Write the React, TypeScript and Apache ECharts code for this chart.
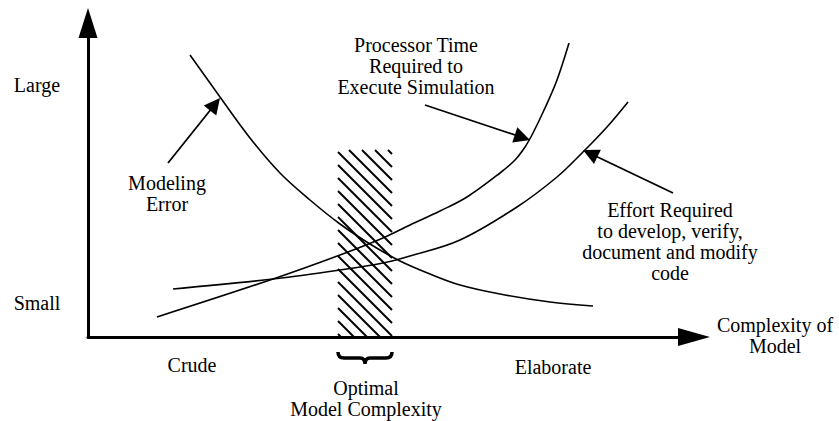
import { useEffect, useRef } from 'react';
import * as echarts from 'echarts';

// Data units: x = horizontal distance from the y axis, y = height above the x axis
const X_MAX = 606;
const Y_MAX = 314;

const modelingError: number[][] = [
  [102, 282], [132, 240], [162, 199], [192, 164], [222, 137], [252, 113], [282, 93],
  [312, 76], [342, 63], [372, 52], [412, 43], [462, 35], [505, 31],
];
const processorTime: number[][] = [
  [69, 20], [185, 58], [252, 82], [295, 99], [322, 112], [352, 126], [379, 140],
  [412, 164], [427, 177], [437, 190], [445, 204], [457, 229], [469, 257], [481, 294],
];
const effortRequired: number[][] = [
  [85, 48], [185, 58], [252, 67], [295, 74], [322, 81], [372, 97], [429, 130],
  [469, 160], [495, 185], [519, 210], [540, 235],
];
// optimal region: [xStart, xEnd, top]
const optimalRegion: number[][] = [[250, 304, 187]];

const arrowFrom: number[][] = [[80, 174], [337, 232], [585, 144]];
const arrowTo: number[][] = [[132, 239], [442, 197], [495, 187]];

const FONT = "'Liberation Serif', 'Times New Roman', serif";

const labels = [
  { text: 'Large', x: 37, y: 85 },
  { text: 'Small', x: 37, y: 303 },
  { text: 'Modeling\nError', x: 167, y: 193 },
  { text: 'Processor Time\nRequired to\nExecute Simulation', x: 416, y: 66 },
  { text: 'Effort Required\nto develop, verify,\ndocument and modify\ncode', x: 670, y: 241 },
  { text: 'Complexity of\nModel', x: 775, y: 335 },
  { text: 'Crude', x: 192, y: 365 },
  { text: 'Elaborate', x: 553, y: 367 },
  { text: 'Optimal\nModel Complexity', x: 366, y: 398 },
];

function shorten(from: number[], to: number[], d: number): number[] {
  const dx = to[0] - from[0];
  const dy = to[1] - from[1];
  const len = Math.sqrt(dx * dx + dy * dy);
  return [to[0] - (dx / len) * d, to[1] - (dy / len) * d];
}

export default function App() {
  const ref = useRef<HTMLDivElement>(null);
  useEffect(() => {
    if (!ref.current) return;
    const chart = echarts.init(ref.current, null, { renderer: 'svg' });
    const curveStyle = { color: '#000', width: 1.6 };
    chart.setOption({
      animation: false,
      backgroundColor: '#fff',
      textStyle: { fontFamily: FONT },
      grid: { left: 88, right: 145, top: 23, bottom: 84 },
      xAxis: {
        type: 'value', min: 0, max: X_MAX,
        axisLine: { show: true, onZero: false, symbol: ['none', 'triangle'], symbolSize: [18, 32], lineStyle: { color: '#000', width: 3 } },
        axisTick: { show: false }, axisLabel: { show: false }, splitLine: { show: false },
      },
      yAxis: {
        type: 'value', min: 0, max: Y_MAX,
        axisLine: { show: true, onZero: false, symbol: ['none', 'triangle'], symbolSize: [19, 30], lineStyle: { color: '#000', width: 3 } },
        axisTick: { show: false }, axisLabel: { show: false }, splitLine: { show: false },
      },
      series: [
        {
          type: 'custom',
          clip: false,
          data: optimalRegion,
          renderItem: (params: any, api: any) => {
            const p0 = api.coord([api.value(0), api.value(2)]);
            const p1 = api.coord([api.value(1), 0]);
            const x0 = p0[0], y0 = p0[1], x1 = p1[0], y1 = p1[1];
            const step = 13;
            const children: any[] = [];
            for (let c = y0 - x1 + 4; c < y1 - x0; c += step) {
              const sx = Math.max(x0, y0 - c);
              const ex = Math.min(x1, y1 - c);
              if (ex - sx < 1) continue;
              children.push({
                type: 'line',
                shape: { x1: sx, y1: sx + c, x2: ex, y2: ex + c },
                style: { stroke: '#000', lineWidth: 2 },
              });
            }
            const w = x1 - x0;
            const m = w / 2;
            const d = `M0,0 Q0,6 6,6 L${m - 5},6 Q${m},6 ${m},12 Q${m},6 ${m + 5},6 L${w - 6},6 Q${w},6 ${w},0`;
            children.push({
              type: 'path',
              shape: { pathData: d, x: x0, y: y1 + 15, width: w, height: 12 },
              style: { stroke: '#000', fill: 'none', lineWidth: 3.5 },
            });
            return { type: 'group', children };
          },
        },
        { type: 'line', data: modelingError, smooth: 0.35, showSymbol: false, lineStyle: curveStyle },
        { type: 'line', data: processorTime, smooth: 0.35, showSymbol: false, lineStyle: curveStyle },
        { type: 'line', data: effortRequired, smooth: 0.35, showSymbol: false, lineStyle: curveStyle },
        {
          type: 'lines',
          coordinateSystem: 'cartesian2d',
          symbol: ['none', 'triangle'],
          symbolSize: [10, 16],
          lineStyle: { color: '#000', width: 1.8, opacity: 1, curveness: 0 },
          data: arrowFrom.map((f, i) => ({ coords: [f, shorten(f, arrowTo[i], 8)] })),
        },
      ],
      graphic: labels.map((l) => ({
        type: 'text',
        x: l.x,
        y: l.y,
        style: {
          text: l.text,
          font: `20px ${FONT}`,
          fontSize: 20,
          fontFamily: FONT,
          fill: '#000',
          align: 'center',
          verticalAlign: 'middle',
          textAlign: 'center',
          textVerticalAlign: 'middle',
          lineHeight: 21,
        },
      })),
    });
    return () => chart.dispose();
  }, []);
  return <div ref={ref} style={{ position: 'fixed', left: 0, top: 0, width: 839, height: 421 }} />;
}
